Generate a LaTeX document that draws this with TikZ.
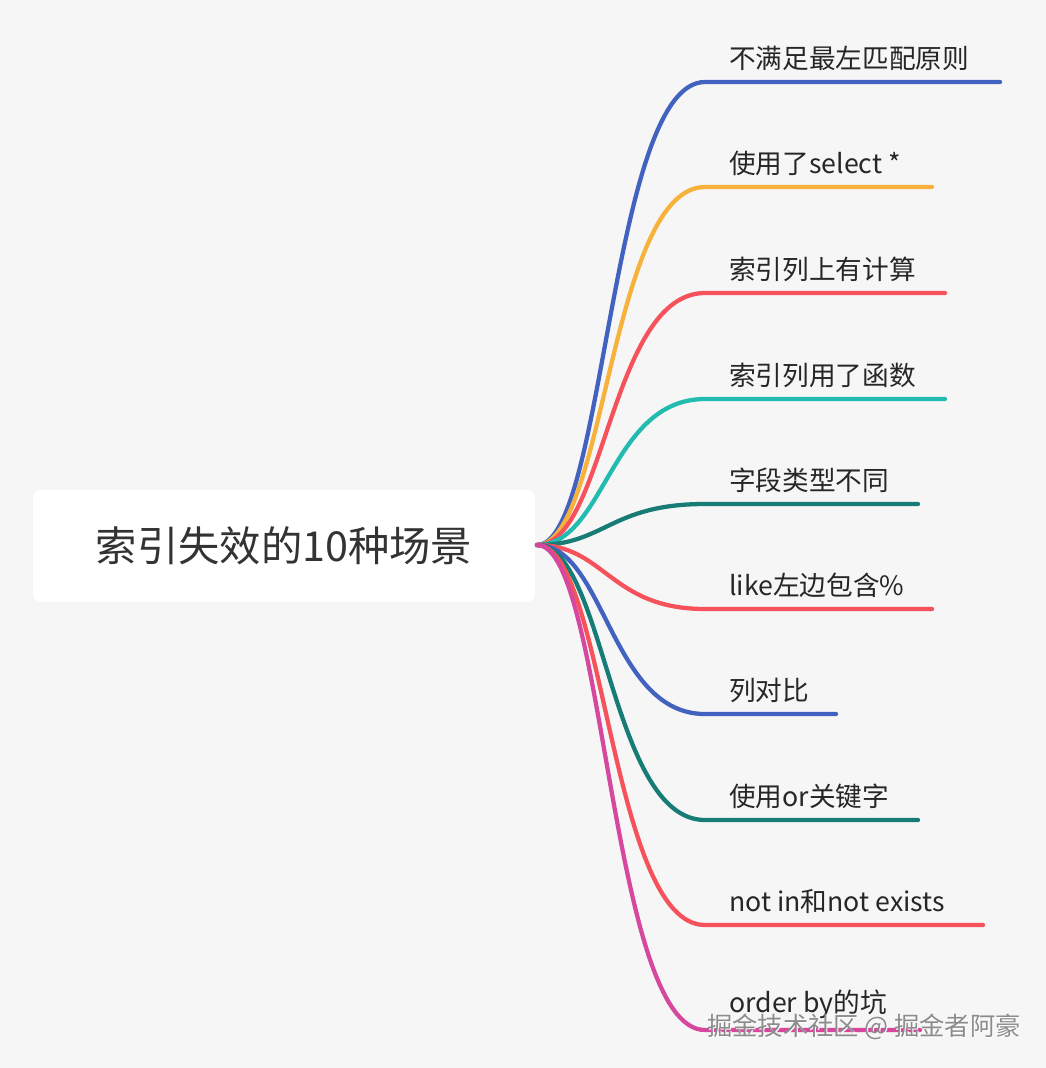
\documentclass[tikz,border=0pt]{standalone}
\usepackage{fontspec}
\setmainfont{Noto Sans CJK SC}
\usetikzlibrary{calc}
\definecolor{cBlue}{HTML}{4262C0}
\definecolor{cOrange}{HTML}{F7B23B}
\definecolor{cRed}{HTML}{F5525C}
\definecolor{cTeal}{HTML}{22BBAF}
\definecolor{cDark}{HTML}{167C75}
\definecolor{cPink}{HTML}{D6489E}
\definecolor{bgGray}{HTML}{F6F6F6}
\begin{document}
\begin{tikzpicture}[x=0.75pt, y=-0.75pt,
    branch/.style={line width=3.2pt, line cap=round},
    leaf/.style={anchor=south west, inner sep=0pt, font=\fontsize{20}{24}\selectfont, text=black!85}]
    % background and frame
    \fill[bgGray] (0,0) rectangle (1046,1068);
    \useasboundingbox (0,0) rectangle (1046,1068);

    % root node
    \node[fill=white, rounded corners=6pt, minimum width=376.5pt, minimum height=84pt,
          font=\fontsize{31}{36}\selectfont, text=black!80] (root) at (284,546) {索引失效的10种场景};
    \coordinate (hub) at (537,545);

    % branches: y, end x, colour, label
    \foreach \y/\xe/\col/\txt [count=\i] in {
        82/1000/cBlue/不满足最左匹配原则,
        187/932/cOrange/使用了select *,
        293/945/cRed/索引列上有计算,
        399/945/cTeal/索引列用了函数,
        504/918/cDark/字段类型不同,
        609/932/cRed/like左边包含\%,
        714/836/cBlue/列对比,
        820/918/cDark/使用or关键字,
        925/983/cRed/not in和not exists,
        1030/920/cPink/order by的坑}{
        \coordinate (b\i) at (705,\y);
        \coordinate (e\i) at (\xe,\y);
        \draw[branch, \col] (hub) .. controls (605,545) and (610,\y) .. (b\i) -- (e\i);
        \node[leaf] (t\i) at ($(729,\y)+(0,-11)$) {\txt};
    }

    % watermark
    \node[font=\fontsize{19}{22}\selectfont, text=white] at (865,1028) {掘金技术社区 @ 掘金者阿豪};
    \node[font=\fontsize{19}{22}\selectfont, text=black!45] (wm) at (864,1027) {掘金技术社区 @ 掘金者阿豪};
\end{tikzpicture}
\end{document}
